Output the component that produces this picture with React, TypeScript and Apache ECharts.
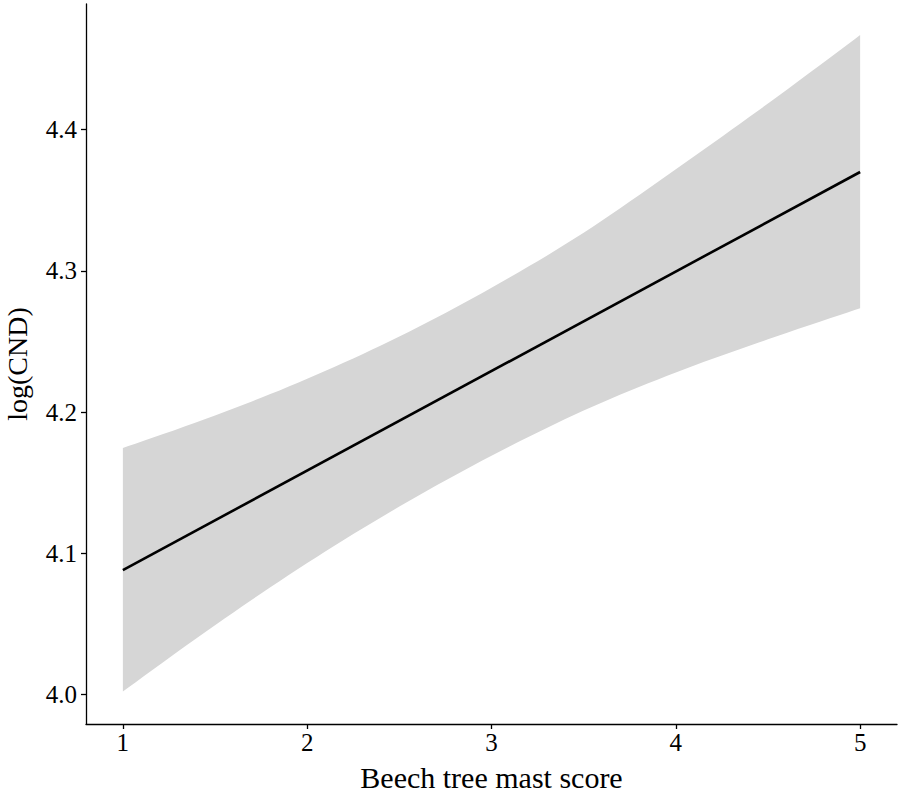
import React, { useEffect, useRef } from "react";
import * as echarts from "echarts";

const mastScore = [1, 1.5, 2, 2.5, 3, 3.5, 4, 4.5, 5];
const ciUpper = [4.1745, 4.1975, 4.2235, 4.2535, 4.288, 4.327, 4.372, 4.4185, 4.467];
const ciLower = [4.002, 4.049, 4.093, 4.133, 4.169, 4.201, 4.228, 4.2515, 4.2735];
const fitX = [1, 5];
const fitY = [4.088, 4.37];
const xTicks = [1, 2, 3, 4, 5];
const yTicks = [4.0, 4.1, 4.2, 4.3, 4.4];

const FONT = "Liberation Serif";

// Catmull-Rom smoothing in pixel space (passes through every given point)
function smoothEdge(p: number[][], steps = 10): number[][] {
  const out: number[][] = [];
  for (let i = 0; i < p.length - 1; i++) {
    const p0 = p[i - 1] || p[i];
    const p1 = p[i];
    const p2 = p[i + 1];
    const p3 = p[i + 2] || p[i + 1];
    for (let s = 0; s < steps; s++) {
      const t = s / steps;
      const t2 = t * t;
      const t3 = t2 * t;
      const pt = [0, 1].map(
        (k) =>
          0.5 *
          (2 * p1[k] +
            (-p0[k] + p2[k]) * t +
            (2 * p0[k] - 5 * p1[k] + 4 * p2[k] - p3[k]) * t2 +
            (-p0[k] + 3 * p1[k] - 3 * p2[k] + p3[k]) * t3)
      );
      out.push(pt);
    }
  }
  out.push(p[p.length - 1]);
  return out;
}

export default function App() {
  const ref = useRef<HTMLDivElement>(null);
  useEffect(() => {
    if (!ref.current) return;
    const chart = echarts.init(ref.current, undefined, { renderer: "svg" });
    chart.setOption({
      animation: false,
      backgroundColor: "#ffffff",
      textStyle: { fontFamily: FONT },
      grid: { left: 86, right: 1, top: 4, bottom: 71, containLabel: false, outerBoundsMode: "none" },
      xAxis: {
        type: "value",
        min: 0.8,
        max: 5.2,
        name: "Beech tree mast score",
        nameLocation: "middle",
        nameGap: 38,
        nameTextStyle: { fontFamily: FONT, fontSize: 30, color: "#000" },
        axisLine: { show: true, onZero: false, lineStyle: { color: "#000", width: 1.3 } },
        axisTick: { show: true, length: 5, customValues: xTicks, lineStyle: { color: "#000", width: 1.3 } },
        axisLabel: { customValues: xTicks, fontFamily: FONT, fontSize: 25, color: "#000", margin: 6 },
        splitLine: { show: false },
      },
      yAxis: {
        type: "value",
        min: 3.979,
        max: 4.489,
        name: "log(CND)",
        nameLocation: "middle",
        nameGap: 55,
        nameRotate: 90,
        nameTextStyle: { fontFamily: FONT, fontSize: 28, color: "#000" },
        axisLine: { show: true, onZero: false, lineStyle: { color: "#000", width: 1.3 } },
        axisTick: { show: true, length: 5, customValues: yTicks, lineStyle: { color: "#000", width: 1.3 } },
        axisLabel: {
          customValues: yTicks,
          fontFamily: FONT,
          fontSize: 25,
          color: "#000",
          margin: 9,
          formatter: (v: number) => v.toFixed(1),
        },
        splitLine: { show: false },
      },
      series: [
        {
          name: "ci",
          type: "custom",
          silent: true,
          z: 1,
          data: [[mastScore[0], ciLower[0]]],
          renderItem: (_params: any, api: any) => {
            const up = mastScore.map((x, i) => api.coord([x, ciUpper[i]]));
            const lo = mastScore.map((x, i) => api.coord([x, ciLower[i]]));
            const pts = smoothEdge(up).concat(smoothEdge(lo).reverse());
            return {
              type: "polygon",
              shape: { points: pts },
              style: { fill: "#D6D6D6", stroke: "none" },
            };
          },
        },
        {
          name: "fit",
          type: "line",
          z: 3,
          symbol: "none",
          lineStyle: { color: "#000", width: 2.6 },
          data: fitX.map((x, i) => [x, fitY[i]]),
        },
      ],
    });
    return () => chart.dispose();
  }, []);
  return (
    <div
      ref={ref}
      style={{ position: "fixed", left: 0, top: 0, width: 898, height: 795, background: "#fff" }}
    />
  );
}
